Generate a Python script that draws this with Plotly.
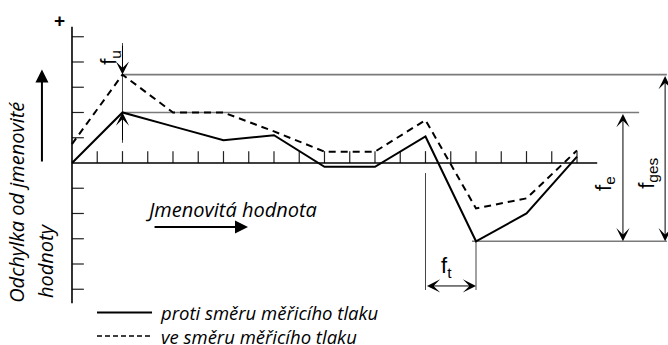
import plotly.graph_objects as go

# measuring points along the nominal value axis
positions = [0, 2, 4, 6, 8, 10, 12, 14, 16, 18, 20]
# deviation, against the measuring pressure (solid) and with it (dashed)
proti = [0, 2.0, 1.45, 0.9, 1.1, -0.15, -0.15, 1.05, -3.1, -2.0, 0.25]
ve = [0.75, 3.5, 2.0, 2.0, 1.25, 0.45, 0.45, 1.7, -1.8, -1.4, 0.5]

x_ticks = list(range(1, 21))
y_ticks = [-5, -4, -3, -2, -1, 1, 2, 3, 4, 5]

label_proti = "proti směru měřicího tlaku"
label_ve = "ve směru měřicího tlaku"
axis_title = ["Odchylka od jmenovité", "hodnoty"]
x_title = "Jmenovitá hodnota"

TXT = "Open Sans"
SYM = "Liberation Sans"
GRAY = "#7a7a7a"
tick_len = 0.47

fig = go.Figure()

# axes drawn as lines in data space
tx, ty = [], []
for t in x_ticks:
    tx += [t, t, None]
    ty += [0, tick_len, None]
for t in y_ticks:
    tx += [0, tick_len, None]
    ty += [t, t, None]
fig.add_trace(go.Scatter(x=tx, y=ty, mode="lines", line=dict(color="#222", width=1.2),
                         hoverinfo="skip"))
fig.add_trace(go.Scatter(x=[0, 0, None, 0, 20.8], y=[5.4, -5.55, None, 0, 0], mode="lines",
                         line=dict(color="black", width=1.6), hoverinfo="skip"))

top = max(ve)
mid = max(proti)
low = min(proti)
i_low = proti.index(low)
i_top = ve.index(top)

# gray reference lines
fig.add_trace(go.Scatter(
    x=[positions[i_top], 23.56, None, positions[i_top], 22.46, None, 15.84, 23.56],
    y=[top, top, None, mid, mid, None, low, low],
    mode="lines", line=dict(color=GRAY, width=1.6), hoverinfo="skip"))
fig.add_trace(go.Scatter(
    x=[14, 14, None, positions[i_low], positions[i_low], None, 2, 2],
    y=[-0.4, -5.03, None, low, -5.03, None, 4.75, 0.8],
    mode="lines", line=dict(color="#444", width=1), hoverinfo="skip"))

# series
fig.add_trace(go.Scatter(x=positions, y=ve, mode="lines", name=label_ve,
                         line=dict(color="black", width=2, dash="7px,5px")))
fig.add_trace(go.Scatter(x=positions, y=proti, mode="lines", name=label_proti,
                         line=dict(color="black", width=2)))

# legend drawn by hand
fig.add_trace(go.Scatter(x=[0.99, 3.17], y=[-5.92, -5.92], mode="lines",
                         line=dict(color="black", width=2), hoverinfo="skip"))
fig.add_trace(go.Scatter(x=[0.99, 3.17], y=[-6.85, -6.85], mode="lines",
                         line=dict(color="black", width=1.5, dash="5px,3px"), hoverinfo="skip"))

ann = []


def arrow(x0, y0, x1, y1, both=False, width=1, size=2.2, head=3):
    ann.append(dict(x=x1, y=y1, ax=x0, ay=y0, xref="x", yref="y", axref="x", ayref="y",
                    text="", showarrow=True, arrowhead=head, startarrowhead=head,
                    arrowsize=size, startarrowsize=size, arrowwidth=width,
                    arrowcolor="black", arrowside="end+start" if both else "end"))


def text(x, y, s, size=20, family=TXT, angle=0, xa="center", ya="middle"):
    ann.append(dict(x=x, y=y, xref="x", yref="y", text=s, showarrow=False, textangle=angle,
                    xanchor=xa, yanchor=ya, align="left",
                    font=dict(family=family, size=size, color="black")))


arrow(21.82, mid, 21.82, low, both=True)
arrow(23.49, top, 23.49, low, both=True)
arrow(14, -4.87, positions[i_low], -4.87, both=True)
arrow(2, 4.7, 2, top)
arrow(2, 0.85, 2, mid)
arrow(-1.19, 0, -1.19, 3.7, width=2, size=1.3, head=2)
arrow(3.21, -2.53, 6.97, -2.53, width=2, size=1.3, head=2)

text(21.1, -0.8, "f<sub>e</sub>", size=22, family=SYM, angle=-90)
text(22.8, -0.4, "f<sub>ges</sub>", size=22, family=SYM, angle=-90)
text(14.85, -4.1, "f<sub>t</sub>", size=22, family=SYM)
text(1.5, 4.2, "f<sub>u</sub>", size=22, family=SYM, angle=-90)
text(-0.48, 5.66, "<b>+</b>", size=19, family=SYM)

text(-2.2, -5.62, "<i>%s</i>" % axis_title[0], angle=-90, ya="bottom")
text(-1.05, -5.43, "<i>%s</i>" % axis_title[1], angle=-90, ya="bottom")
text(2.81, -1.86, "<i>%s</i>" % x_title, xa="left")
text(3.4, -6.4, "<i>%s</i><br><i>%s</i>" % (label_proti, label_ve), size=18.5, xa="left")

fig.update_layout(
    width=668, height=345, autosize=False,
    margin=dict(l=0, r=0, t=0, b=0, pad=0),
    paper_bgcolor="white", plot_bgcolor="white",
    showlegend=False,
    xaxis=dict(range=[-2.851, 23.604], visible=False, fixedrange=True),
    yaxis=dict(range=[-7.208, 6.455], visible=False, fixedrange=True),
    annotations=ann,
)

fig.write_html("out.html", config={"displayModeBar": False},
               post_script="document.body.style.margin='0';")
